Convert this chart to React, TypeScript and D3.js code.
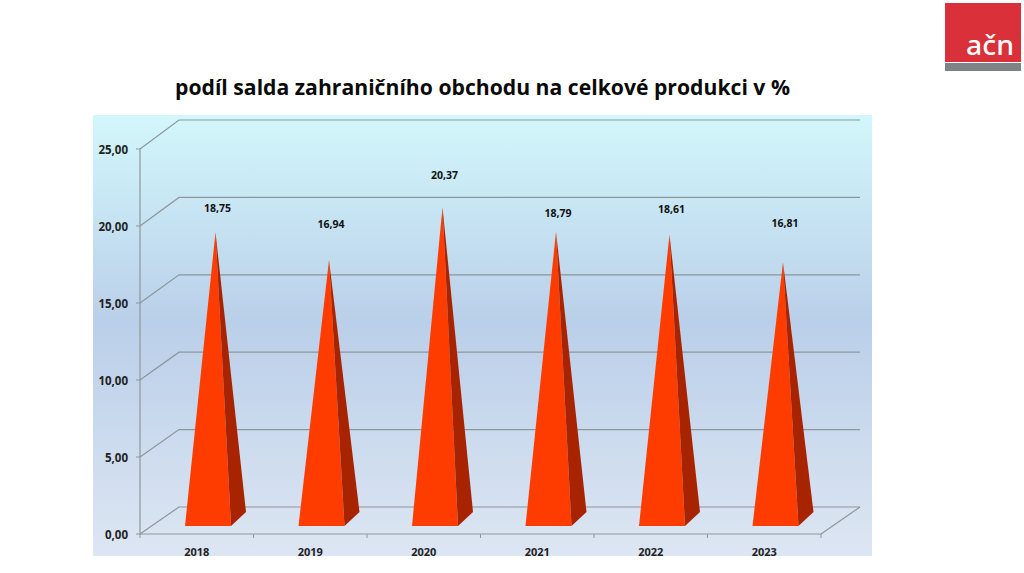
import React from "react";
import * as d3 from "d3";

const categories = ["2018", "2019", "2020", "2021", "2022", "2023"];
const shareValues = [18.75, 16.94, 20.37, 18.79, 18.61, 16.81];
const valueTicks = [0, 5, 10, 15, 20, 25];
const labelLift = [24, 36, 32, 19, 25, 39];
const titleText = "podíl salda zahraničního obchodu na celkové produkci v %";

const font = "'Open Sans', 'Noto Sans', sans-serif";
const DX = 39;

export default function App() {
  const y = d3.scaleLinear().domain([0, 25]).range([534, 149]);
  const yBack = d3.scaleLinear().domain([0, 25]).range([507, 120]);
  const x = d3.scaleBand().domain(categories).range([140, 821]);
  const grid = "#8f9698";
  const fmt = (v: number) => v.toFixed(2).replace(".", ",");
  const poly = d3.line();
  return (
    <svg width={1024} height={573} style={{ position: "fixed", left: 0, top: 0, background: "#fff" }} fontFamily={font}>
      <defs>
        <linearGradient id="bg" x1="0" y1="0" x2="0" y2="1">
          <stop offset="0" stopColor="#d2f7fc" />
          <stop offset="0.47" stopColor="#bacfe9" />
          <stop offset="1" stopColor="#dde6f3" />
        </linearGradient>
      </defs>
      <rect x={93} y={115} width={779} height={441} fill="url(#bg)" />
      <text x={482.5} y={95} textAnchor="middle" fontSize={21.5} fontWeight={700} fill="#0a0a0a" textLength={615} lengthAdjust="spacingAndGlyphs">{titleText}</text>

      {/* walls and gridlines */}
      {valueTicks.map((t) => (
        <g key={t}>
          <path d={poly([[x.range()[0], y(t)], [x.range()[0] + DX, yBack(t)], [x.range()[1] + DX, yBack(t)]]) ?? ""} fill="none" stroke={grid} strokeWidth={1.2} />
          <line x1={136} x2={140} y1={y(t)} y2={y(t)} stroke={grid} />
          <text x={128} y={y(t) + 5} textAnchor="end" fontSize={11.5} fontWeight={700} fill="#222">{fmt(t)}</text>
        </g>
      ))}
      <line x1={140} x2={140} y1={y(25)} y2={y(0)} stroke={grid} strokeWidth={1.2} />
      <path d={poly([[x.range()[1], y(0)], [x.range()[1] + DX, yBack(0)]]) ?? ""} stroke={grid} strokeWidth={1.2} fill="none" />
      <line x1={140} x2={821} y1={y(0)} y2={y(0)} stroke={grid} strokeWidth={1.2} />
      {[...categories, "end"].map((c, i) => {
        const px = x.range()[0] + i * x.step();
        return <line key={c} x1={px} x2={px} y1={y(0)} y2={y(0) + 4} stroke={grid} />;
      })}

      {/* pyramids */}
      {categories.map((c, i) => {
        const left = (x(c) ?? 0) + 45;
        const right = left + 46;
        const backRight = right + 15;
        const apexX = (left + backRight) / 2;
        const baseFront = y(0) - 8;
        const baseBack = y(0) - 22;
        const apexY = y(shareValues[i]) - 13;
        return (
          <g key={c}>
            <path d={(poly([[left, baseFront], [right, baseFront], [apexX, apexY]]) ?? "") + "Z"} fill="#ff3c00" />
            <path d={(poly([[right, baseFront], [backRight, baseBack], [apexX, apexY]]) ?? "") + "Z"} fill="#a82400" />
            <text x={apexX + 2} y={apexY - labelLift[i] + 4} textAnchor="middle" fontSize={10.5} fontWeight={700} fill="#111">{fmt(shareValues[i])}</text>
            <text x={(x(c) ?? 0) + x.bandwidth() / 2} y={556} textAnchor="middle" fontSize={11} fontWeight={700} fill="#222">{c}</text>
          </g>
        );
      })}

      {/* logo */}
      <rect x={945} y={3} width={76} height={59} fill="#d9303a" />
      <rect x={945} y={63} width={76} height={8} fill="#808285" />
      <text x={1014} y={55} textAnchor="end" fontSize={27} fontWeight={500} fill="#fff" textLength={48} lengthAdjust="spacingAndGlyphs" fontFamily="'Noto Sans', sans-serif">ačn</text>
    </svg>
  );
}
